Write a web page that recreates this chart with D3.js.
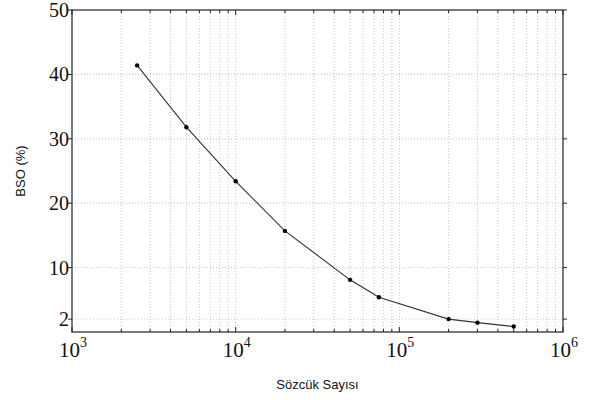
<!DOCTYPE html>
<html lang="tr">
<head>
  <meta charset="UTF-8">
  <title>BSO</title>
  <script src="https://d3js.org/d3.v7.min.js"></script>
  <style>
    body { margin: 0; background: #fff; }
    svg { display: block; }
  </style>
</head>
<body>
  <svg width="590" height="400"></svg>
  <script>
    const wordCounts = [2500, 5000, 10000, 20000, 50000, 75000, 200000, 300000, 500000];
    const bsoValues = [41.4, 31.8, 23.4, 15.7, 8.1, 5.4, 2.0, 1.45, 0.85];
    const yTicks = [2, 10, 20, 30, 40, 50];
    const xTicks = [1e3, 1e4, 1e5, 1e6];

    const serif = `'Liberation Serif', 'Times New Roman', 'DejaVu Serif', serif`;
    const sans = `'Liberation Sans', Arial, sans-serif`;

    const margin = {top: 10, right: 27, bottom: 68, left: 72};
    const width = 590;
    const height = 400;

    const svg = d3.select(`svg`);

    const x = d3.scaleLog()
      .domain([1e3, 1e6])
      .range([margin.left, width - margin.right]);
    const y = d3.scaleLinear()
      .domain([0, 50])
      .range([height - margin.bottom, margin.top]);

    // minor x positions for the log grid
    const minorX = [];
    for (let e = 3; e < 6; e++) {
      for (let m = 1; m < 10; m++) minorX.push(m * Math.pow(10, e));
    }
    minorX.push(1e6);

    const grid = svg.append(`g`)
      .attr(`stroke`, `#b8b8b8`)
      .attr(`stroke-width`, 0.8)
      .attr(`stroke-dasharray`, `1,2`);

    grid.selectAll(`line.gx`)
      .data(minorX.filter(d => d > 1e3 && d < 1e6))
      .enter().append(`line`)
      .attr(`x1`, d => x(d)).attr(`x2`, d => x(d))
      .attr(`y1`, y(0)).attr(`y2`, y(50));

    grid.selectAll(`line.gy`)
      .data(yTicks.filter(d => d < 50))
      .enter().append(`line`)
      .attr(`x1`, x(1e3)).attr(`x2`, x(1e6))
      .attr(`y1`, d => y(d)).attr(`y2`, d => y(d));

    // frame
    svg.append(`rect`)
      .attr(`x`, x(1e3)).attr(`y`, y(50))
      .attr(`width`, x(1e6) - x(1e3)).attr(`height`, y(0) - y(50))
      .attr(`fill`, `none`).attr(`stroke`, `#222`).attr(`stroke-width`, 1.2);

    // ticks
    const ticks = svg.append(`g`).attr(`stroke`, `#222`).attr(`stroke-width`, 1);
    ticks.selectAll(`line.yt`)
      .data(yTicks)
      .enter().append(`line`)
      .attr(`x1`, x(1e3) - 4).attr(`x2`, x(1e3))
      .attr(`y1`, d => y(d)).attr(`y2`, d => y(d));
    ticks.selectAll(`line.yr`)
      .data(yTicks)
      .enter().append(`line`)
      .attr(`x1`, x(1e6)).attr(`x2`, x(1e6) + 4)
      .attr(`y1`, d => y(d)).attr(`y2`, d => y(d));
    ticks.selectAll(`line.xt`)
      .data(minorX)
      .enter().append(`line`)
      .attr(`x1`, d => x(d)).attr(`x2`, d => x(d))
      .attr(`y1`, y(0)).attr(`y2`, d => xTicks.includes(d) ? y(0) - 5 : y(0) - 3);
    ticks.selectAll(`line.xtop`)
      .data(minorX)
      .enter().append(`line`)
      .attr(`x1`, d => x(d)).attr(`x2`, d => x(d))
      .attr(`y1`, y(50)).attr(`y2`, d => xTicks.includes(d) ? y(50) + 5 : y(50) + 3);

    // tick labels
    svg.selectAll(`text.yl`)
      .data(yTicks)
      .enter().append(`text`)
      .attr(`font-family`, serif)
      .attr(`font-size`, 20)
      .attr(`fill`, `#111`)
      .attr(`x`, x(1e3) - 3)
      .attr(`y`, d => y(d) + 7)
      .attr(`text-anchor`, `end`)
      .text(d => d);

    const xl = svg.selectAll(`text.xl`)
      .data(xTicks)
      .enter().append(`text`)
      .attr(`font-family`, serif)
      .attr(`font-size`, 21)
      .attr(`fill`, `#111`)
      .attr(`x`, d => x(d) + 1)
      .attr(`y`, y(0) + 25)
      .attr(`text-anchor`, `middle`);
    xl.append(`tspan`).text(`10`);
    xl.append(`tspan`)
      .attr(`dy`, -10)
      .attr(`font-size`, 14)
      .text(d => Math.round(Math.log10(d)));

    // axis titles
    svg.append(`text`)
      .attr(`font-family`, sans)
      .attr(`font-size`, 13)
      .attr(`fill`, `#111`)
      .attr(`x`, (x(1e3) + x(1e6)) / 2)
      .attr(`y`, 389)
      .attr(`text-anchor`, `middle`)
      .text(`Sözcük Sayısı`);

    svg.append(`text`)
      .attr(`font-family`, sans)
      .attr(`font-size`, 13)
      .attr(`fill`, `#111`)
      .attr(`transform`, `translate(25, ${y(25)}) rotate(-90)`)
      .attr(`text-anchor`, `middle`)
      .text(`BSO (%)`);

    // data
    const points = wordCounts.map((w, i) => ({w, v: bsoValues[i]}));
    const line = d3.line().x(d => x(d.w)).y(d => y(d.v));

    svg.append(`path`)
      .datum(points)
      .attr(`d`, line)
      .attr(`fill`, `none`)
      .attr(`stroke`, `#333`)
      .attr(`stroke-width`, 1.1);

    svg.selectAll(`circle.pt`)
      .data(points)
      .enter().append(`circle`)
      .attr(`cx`, d => x(d.w))
      .attr(`cy`, d => y(d.v))
      .attr(`r`, 2.2)
      .attr(`fill`, `#000`);
  </script>
</body>
</html>
